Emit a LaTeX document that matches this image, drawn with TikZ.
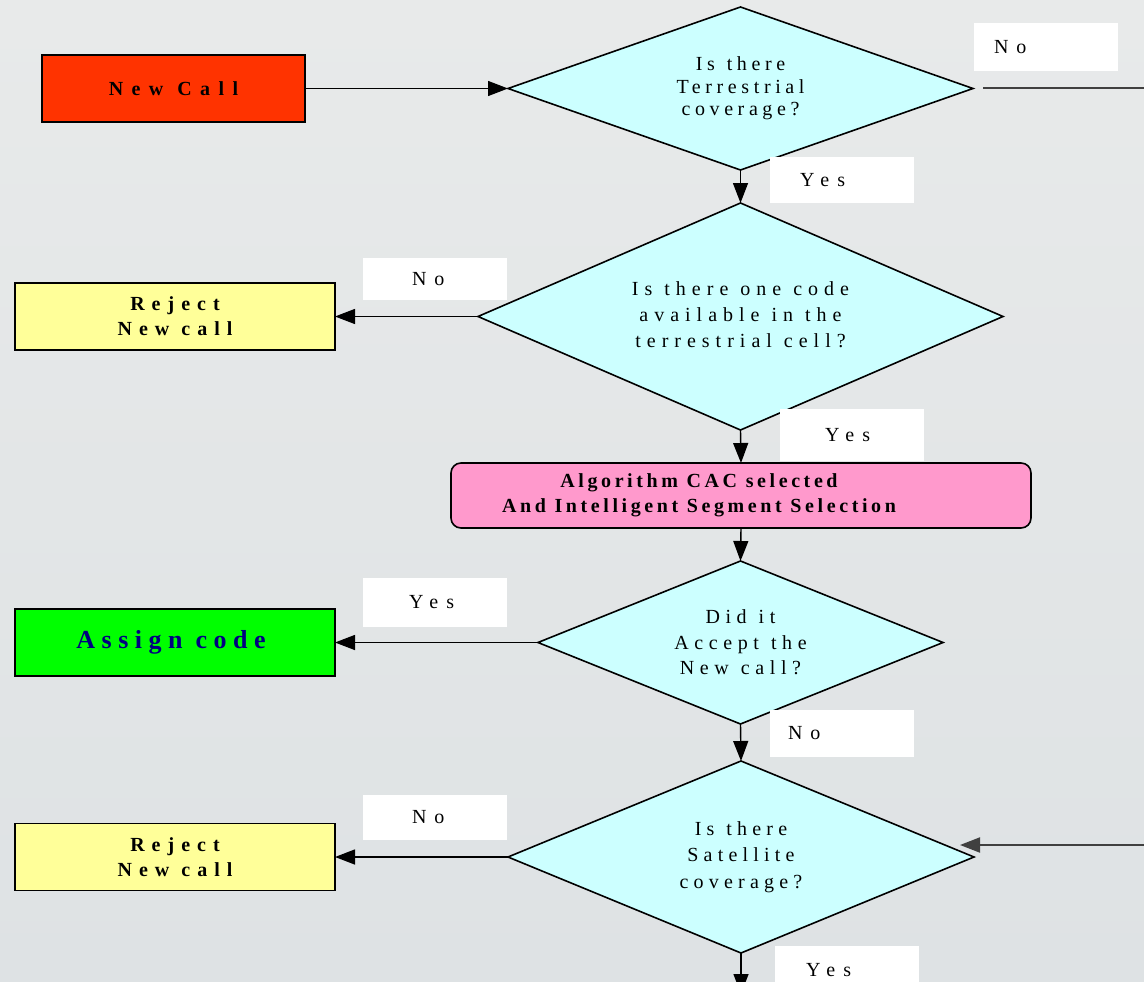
\documentclass[tikz,border=0pt]{standalone}
\usepackage{fontspec}
\setmainfont{Liberation Serif}
\usetikzlibrary{arrows.meta,shapes.geometric,calc}

\definecolor{bgtop}{RGB}{232,234,234}
\definecolor{bgbot}{RGB}{222,226,228}
\definecolor{qfill}{RGB}{204,255,255}
\definecolor{startfill}{RGB}{255,51,0}
\definecolor{rejfill}{RGB}{255,255,153}
\definecolor{okfill}{RGB}{0,255,0}
\definecolor{algfill}{RGB}{255,153,204}
\definecolor{navytext}{RGB}{0,0,128}
\definecolor{feedline}{RGB}{64,64,64}

% tracked text: size, baseline skip, letter spacing, interword space (0pt = font default)
\newcommand\trackedfont[4]{\fontsize{#1}{#2}\selectfont\addfontfeature{LetterSpace=#3}\setlength\spaceskip{#4}}

\tikzset{
  qfont/.style 2 args={font=\trackedfont{20}{#1}{#2}{12pt}},
  bfont/.style={font=\bfseries\trackedfont{20}{25}{#1}{0pt}},
  decision/.style={diamond, draw, line width=1.6pt, fill=qfill, inner sep=0pt, outer sep=0pt,
    align=center},
  actbox/.style={rectangle, draw, line width=1.6pt, inner sep=0pt, outer sep=0pt, align=center},
  tag/.style={rectangle, fill=white, inner sep=0pt, text width=144pt, align=left,
    minimum height=#1, font=\trackedfont{20}{24}{40}{8pt}},
  flow/.style={draw, line width=1.4pt, -{Triangle[length=20pt,width=15pt]}},
  feed/.style={draw=feedline, line width=2pt},
}

\begin{document}
\begin{tikzpicture}[x=1pt,y=-1pt]
  % page and background
  \useasboundingbox (0,0) rectangle (1144,982);
  \shade[top color=bgtop, bottom color=bgbot] (0,0) rectangle (1144,982);
  \clip (0,0) rectangle (1144,982);

  % process boxes
  \node[actbox, fill=startfill, minimum width=263pt, minimum height=67pt,
    font=\bfseries\trackedfont{20}{25}{42}{14pt}]
    (newcall) at (173.5,88.5) {\raisebox{-4pt}{New Call}};
  \node[actbox, fill=rejfill, minimum width=320pt, minimum height=67pt, bfont=35]
    (reject1) at (175,316.5) {Reject\\New call};
  \node[actbox, fill=algfill, rounded corners=10pt, minimum width=580pt, minimum height=65pt, bfont=18]
    (cac) at (741,495.5)
    {Algorithm CAC selected\hspace*{84pt}\\And Intelligent Segment Selection\hspace*{84pt}};
  \node[actbox, fill=okfill, minimum width=320pt, minimum height=67pt, text=navytext,
    font=\bfseries\trackedfont{26}{30}{25}{0pt}]
    (assign) at (175,642.5) {Assign code\hspace*{8pt}};
  \node[actbox, fill=rejfill, minimum width=320pt, minimum height=67pt, bfont=35]
    (reject2) at (175,857) {Reject\\New call};

  % decisions
  \node[decision, aspect=2.85, minimum width=465pt, minimum height=163pt, qfont={22.5}{23}]
    (terr) at (740.5,88.5) {Is there\\Terrestrial\\coverage?};
  \node[decision, aspect=2.31, minimum width=525pt, minimum height=227pt, qfont={26}{30}]
    (code) at (740.5,316.5) {\raisebox{4pt}{\begin{tabular}{@{}c@{}}Is there one code\\available in the\\terrestrial cell?\end{tabular}}};
  \node[decision, aspect=2.48, minimum width=405pt, minimum height=163pt, qfont={25.5}{28}]
    (accept) at (740.5,642.5) {Did it\\Accept the\\New call?};
  \node[decision, aspect=2.43, minimum width=466pt, minimum height=192pt, qfont={26.5}{26}]
    (sat) at (741,857) {Is there\\Satellite\\coverage?};

  % branch tags
  \node[tag=48pt] (tagNo1)  at (1046,47)  {\hspace*{20pt}No};
  \node[tag=46pt] (tagYes1) at (842,180)  {\hspace*{30pt}Yes};
  \node[tag=42pt] (tagNo2)  at (435,279)  {\hspace*{49pt}No};
  \node[tag=52pt] (tagYes2) at (852,435)  {\hspace*{45pt}Yes};
  \node[tag=49pt] (tagYes3) at (435,602.5){\hspace*{46pt}Yes};
  \node[tag=47pt] (tagNo3)  at (842,733.5){\hspace*{18pt}No};
  \node[tag=45pt] (tagNo4)  at (435,817.5){\hspace*{49pt}No};
  \node[tag=48pt] (tagYes4) at (847,970)  {\hspace*{31pt}Yes};

  % off-page ends
  \coordinate (rim) at (1150,0);
  \coordinate (satfeed) at (1150,845);
  \coordinate (satin) at (960,845);
  \coordinate (below) at (741,994);

  % connectors
  \draw[flow] (newcall.east) -- (terr.west);
  \draw[flow] (terr.south) -- (code.north);
  \draw[flow] (code.west) -- (reject1.east);
  \draw[flow] (code.south) -- (cac.north);
  \draw[flow] (cac.south) -- (accept.north);
  \draw[flow] (accept.west) -- (assign.east);
  \draw[flow] (accept.south) -- (sat.north);
  \draw[flow] (sat.west) -- (reject2.east);
  \draw[flow] (sat.south) -- (below);
  \draw[feed, shorten <=10pt] (terr.east) -- (terr.east -| rim);
  \draw[feed, -{Triangle[length=20pt,width=15pt]}] (satfeed) -- (satin);
\end{tikzpicture}
\end{document}
